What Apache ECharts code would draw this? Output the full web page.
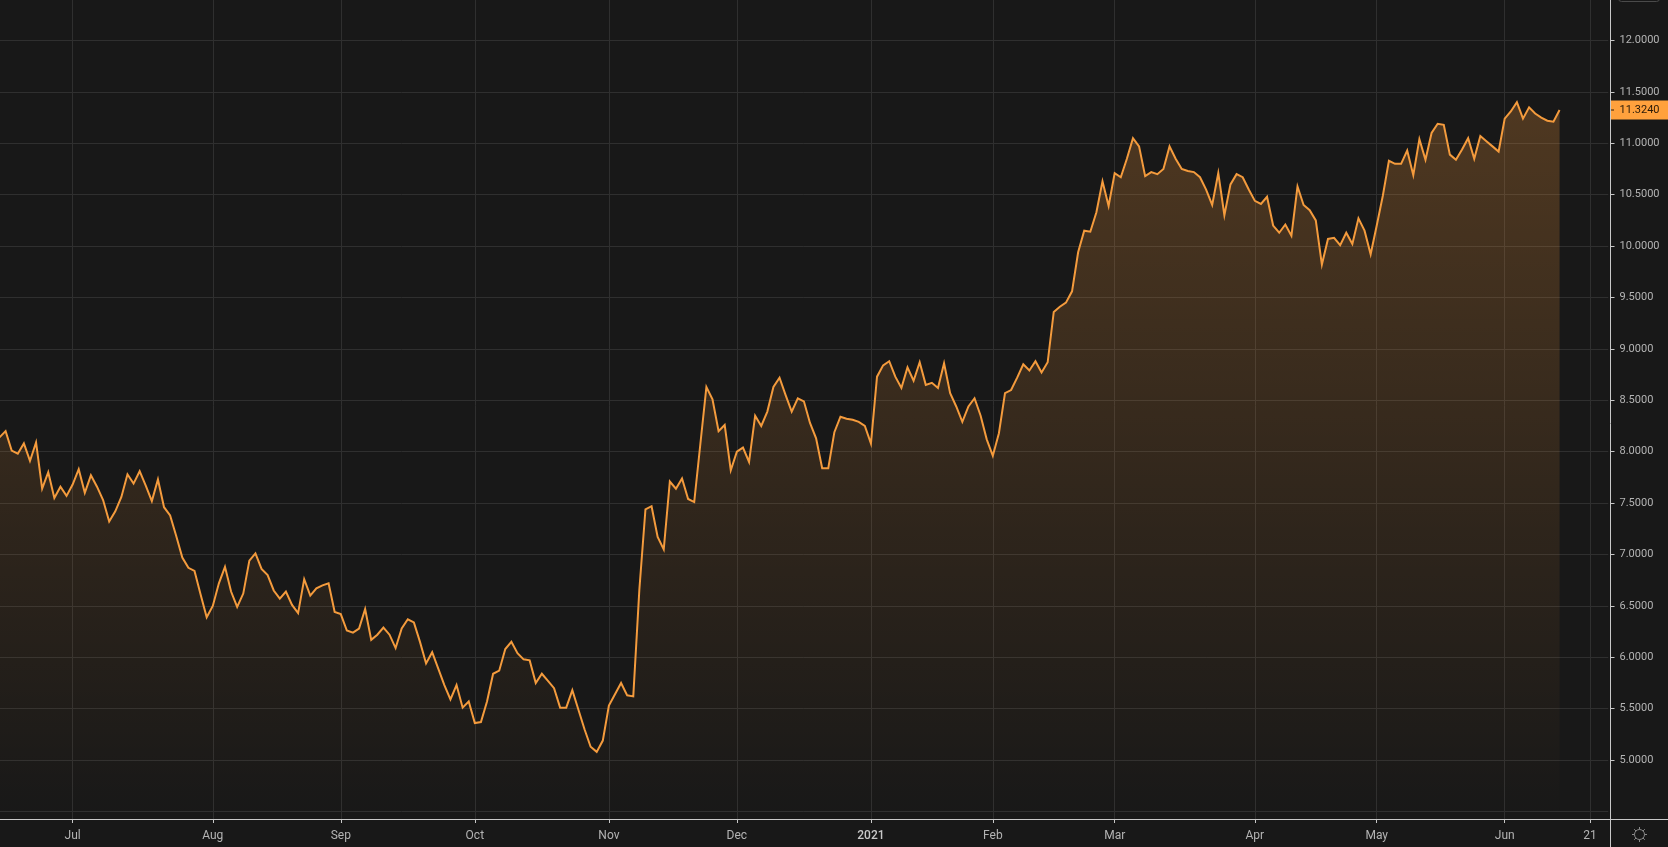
<!DOCTYPE html>
<html>
<head>
<meta charset="utf-8">
<style>html,body{margin:0;padding:0;background:#181818;overflow:hidden}#c{width:1668px;height:847px}</style>
<script src="https://cdn.jsdelivr.net/npm/echarts@6/dist/echarts.min.js"></script>
</head>
<body>
<div id="c"></div>
<script>
const prices = [
8.14,8.20,8.01,7.98,8.08,7.91,8.09,7.64,7.80,7.55,7.66,7.57,
7.68,7.83,7.60,7.77,7.66,7.53,7.32,7.42,7.56,7.78,7.69,7.81,7.67,7.52,7.73,7.46,7.38,7.18,6.97,6.87,6.84,6.61,6.39,
6.50,6.72,6.88,6.64,6.49,6.62,6.94,7.01,6.86,6.80,6.65,6.57,6.64,6.51,6.43,6.76,6.60,6.67,6.70,6.72,6.44,
6.42,6.26,6.24,6.28,6.47,6.17,6.22,6.29,6.22,6.09,6.28,6.37,6.34,6.15,5.94,6.05,5.89,5.73,5.59,5.73,5.51,5.57,
5.36,5.37,5.57,5.84,5.87,6.08,6.15,6.04,5.98,5.97,5.75,5.84,5.77,5.70,5.51,5.51,5.68,5.49,5.30,5.13,5.08,5.19,
5.53,5.64,5.75,5.63,5.62,6.66,7.44,7.47,7.17,7.05,7.71,7.64,7.74,7.54,7.51,8.07,8.63,8.51,8.20,8.26,7.82,
8.00,8.04,7.90,8.35,8.25,8.39,8.63,8.72,8.55,8.39,8.52,8.49,8.28,8.13,7.84,7.84,8.19,8.34,8.32,8.31,8.29,8.25,
8.08,8.73,8.84,8.88,8.73,8.62,8.82,8.69,8.87,8.65,8.67,8.62,8.86,8.57,8.44,8.29,8.44,8.52,8.35,8.12,
7.96,8.18,8.57,8.60,8.72,8.85,8.79,8.88,8.77,8.87,9.36,9.41,9.45,9.56,9.94,10.15,10.14,10.33,10.63,10.39,
10.71,10.67,10.85,11.05,10.97,10.68,10.72,10.70,10.75,10.97,10.85,10.75,10.73,10.72,10.67,10.55,10.40,10.71,10.30,10.60,10.70,10.67,10.55,
10.44,10.41,10.48,10.20,10.13,10.21,10.10,10.58,10.40,10.35,10.25,9.82,10.07,10.08,10.01,10.13,10.02,10.27,10.15,9.92,
10.20,10.49,10.83,10.80,10.80,10.93,10.69,11.04,10.84,11.10,11.19,11.18,10.89,10.84,10.94,11.05,10.85,11.07,11.02,10.97,10.92,
11.24,11.31,11.40,11.24,11.35,11.29,11.25,11.22,11.21,11.324
];
const holidays = ['2020-12-25','2021-01-01','2021-04-02','2021-04-05'];
const firstDay = '2020-06-15';
const slotCount = 265;
const tickDates = ['2020-07-01','2020-08-03','2020-09-01','2020-10-01','2020-11-02','2020-12-01','2021-01-04','2021-02-01','2021-03-01','2021-04-01','2021-05-03','2021-06-01','2021-06-21'];
const tickLabels = ['Jul','Aug','Sep','Oct','Nov','Dec','2021','Feb','Mar','Apr','May','Jun','21'];
const lastPrice = 11.324;

const categories = [];
for (let t = Date.parse(firstDay + 'T00:00:00Z'); categories.length < slotCount; t += 864e5) {
  const d = new Date(t), s = d.toISOString().slice(0, 10), w = d.getUTCDay();
  if (w !== 0 && w !== 6 && !holidays.includes(s)) categories.push(s);
}
const isTick = (i, v) => tickDates.includes(v);
const labelOf = v => {
  const l = tickLabels[tickDates.indexOf(v)];
  return l === '2021' ? '{b|2021}' : l;
};
const FONT = 'Roboto';
const GRID = '#2f2f2f', AXIS = '#c8c8c8', ORANGE = '#ffa13d', LINE = '#f49b3d';

const chart = echarts.init(document.getElementById('c'), null, {renderer: 'canvas'});
const lastIdx = prices.length - 1;
chart.setOption({
  animation: false,
  backgroundColor: '#181818',
  grid: {left: -0.5, top: -10.9, width: 1608.8, height: 822.4, containLabel: false, outerBoundsMode: 'none'},
  xAxis: [{
    type: 'category', data: categories, boundaryGap: false, position: 'bottom',
    axisLine: {show: false},
    axisTick: {show: true, interval: isTick, length: 7.5, lineStyle: {color: GRID}},
    axisLabel: {show: false},
    splitLine: {show: true, interval: isTick, lineStyle: {color: GRID, width: 1}}
  }, {
    type: 'category', data: categories, boundaryGap: false, position: 'bottom', offset: 7.5,
    axisLine: {show: false},
    axisTick: {show: true, interval: isTick, length: 4, lineStyle: {color: AXIS}},
    axisLabel: {show: true, interval: isTick, formatter: labelOf, color: '#b4b4b4', fontFamily: FONT, fontSize: 12, margin: 11, hideOverlap: false,
      rich: {b: {fontWeight: 500, color: '#c8c8c8', fontFamily: FONT, fontSize: 12}}},
    splitLine: {show: false}
  }],
  yAxis: {
    type: 'value', min: 4.5, max: 12.5, interval: 0.5, position: 'right', offset: 2.2,
    axisLine: {show: false},
    axisTick: {show: true, length: 4, lineStyle: {color: AXIS}},
    axisLabel: {show: true, color: '#b4b4b4', fontFamily: FONT, fontSize: 11, margin: 9, showMinLabel: false,
      padding: [2, 0, 0, 0], formatter: v => v.toFixed(4)},
    splitLine: {show: true, lineStyle: {color: GRID, width: 1}}
  },
  series: [{
    type: 'line', data: prices, xAxisIndex: 0, yAxisIndex: 0, showSymbol: false, symbol: 'none', smooth: false,
    lineStyle: {color: LINE, width: 2, join: 'miter'},
    areaStyle: {color: new echarts.graphic.LinearGradient(0, 0, 0, 1, [
      {offset: 0, color: 'rgba(255,158,60,0.34)'},
      {offset: 1, color: 'rgba(255,158,60,0.005)'}
    ])},
    markPoint: {
      silent: true, animation: false,
      data: [{
        coord: [lastIdx, lastPrice], symbol: 'rect', symbolSize: [58, 19], symbolOffset: [80, 0],
        itemStyle: {color: ORANGE},
        label: {show: true, position: 'inside', formatter: lastPrice.toFixed(4), color: '#2a1a08', fontFamily: FONT, fontSize: 11}
      }, {
        coord: [lastIdx, lastPrice], symbol: 'rect', symbolSize: [3, 1], symbolOffset: [53, 0],
        itemStyle: {color: '#2a1a08'}, label: {show: false}
      }]
    }
  }],
  graphic: [
    {type: 'line', silent: true, z: 50, shape: {x1: 0, y1: 819.5, x2: 1668, y2: 819.5}, style: {stroke: AXIS, lineWidth: 1}},
    {type: 'line', silent: true, z: 50, shape: {x1: 1610.5, y1: 0, x2: 1610.5, y2: 847}, style: {stroke: AXIS, lineWidth: 1}},
    {type: 'rect', silent: true, z: 50, shape: {x: 1618.5, y: -10, width: 41, height: 11.5, r: 3}, style: {fill: 'none', stroke: '#4a4a4a', lineWidth: 1}},
    {type: 'group', silent: true, z: 50, x: 1639.5, y: 834.5, children: [
      {type: 'circle', shape: {cx: 0, cy: 0, r: 5}, style: {fill: 'none', stroke: '#8a8a8a', lineWidth: 1}},
      ...[0, 45, 90, 135, 180, 225, 270, 315].map(a => {
        const r = a * Math.PI / 180;
        return {type: 'line', shape: {x1: 5 * Math.cos(r), y1: 5 * Math.sin(r), x2: 7.5 * Math.cos(r), y2: 7.5 * Math.sin(r)}, style: {stroke: '#8a8a8a', lineWidth: 1}};
      })
    ]}
  ]
});
</script>
</body>
</html>
